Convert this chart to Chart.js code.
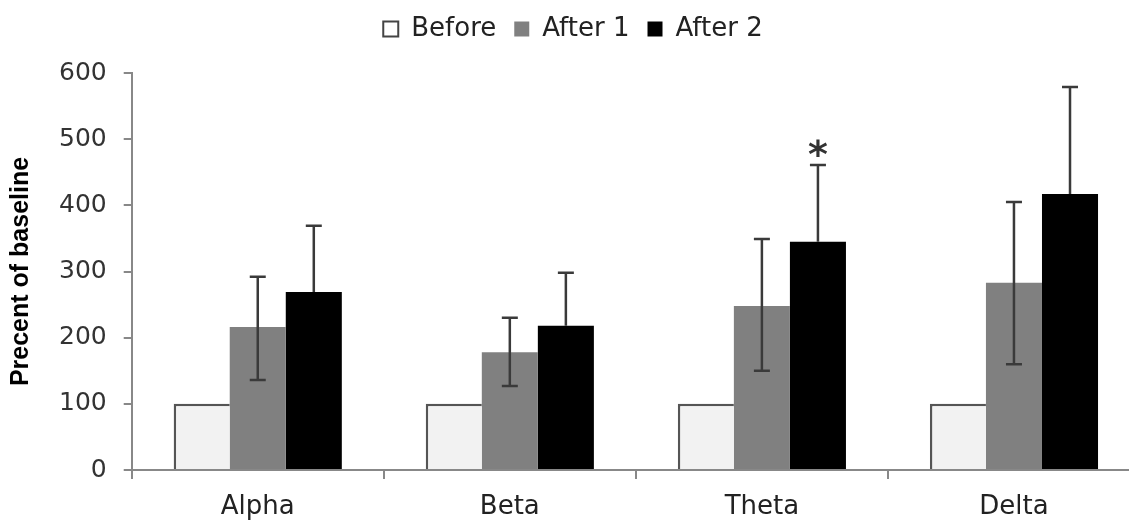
<!DOCTYPE html>
<html><head><meta charset="utf-8">
<script src="https://cdn.jsdelivr.net/npm/chart.js@4.4.0/dist/chart.umd.min.js"></script>
<style>html,body{margin:0;padding:0;background:#fff;overflow:hidden;width:1129px;height:523px}canvas{display:block}</style>
</head><body>
<canvas id="c" width="1145" height="523"></canvas>
<script>
const categories = ["Alpha", "Beta", "Theta", "Delta"];
const seriesNames = ["Before", "After 1", "After 2"];
const before = [100, 100, 100, 100];
const after1 = [216, 178, 248, 283];
const after2 = [269, 218, 345, 417];
const after1ErrUp = [292, 230, 349, 405];
const after1ErrLow = [136, 127, 150, 160];
const after2ErrUp = [369, 298, 461, 579];
const yTicks = [0, 100, 200, 300, 400, 500, 600];
const significance = ["", "", "*", ""];

const errorBars = {
  id: 'errorBars',
  beforeLayout(chart) {
    const lg = chart.legend;
    if (lg && !lg._patched) {
      const origFit = lg.fit;
      lg.fit = function () { origFit.call(this); this.height = 73; };
      const origDraw = lg.draw;
      lg.draw = function (a) { const t = this.top; this.top = t - 2; origDraw.call(this, a); this.top = t; };
      lg._patched = true;
    }
  },
  afterDatasetsDraw(chart) {
    const ctx = chart.ctx, y = chart.scales.y;
    const sets = [[1, after1ErrUp, after1ErrLow], [2, after2ErrUp, null]];
    ctx.save();
    ctx.strokeStyle = '#3a3a3a';
    ctx.lineWidth = 2.5;
    sets.forEach(([di, up, low]) => {
      const meta = chart.getDatasetMeta(di);
      meta.data.forEach((bar, i) => {
        const x = bar.x;
        const yTop = y.getPixelForValue(up[i]);
        const yBot = low ? y.getPixelForValue(low[i]) : bar.y;
        ctx.beginPath();
        ctx.moveTo(x, yBot); ctx.lineTo(x, yTop);
        ctx.moveTo(x - 8, yTop); ctx.lineTo(x + 8, yTop);
        if (low) { ctx.moveTo(x - 8, yBot); ctx.lineTo(x + 8, yBot); }
        ctx.stroke();
        if (di === 2 && significance[i]) {
          ctx.fillStyle = '#333';
          ctx.font = 'bold 38px "DejaVu Sans"';
          ctx.textAlign = 'center';
          ctx.textBaseline = 'bottom';
          ctx.fillText(significance[i], x, yTop + 11);
        }
      });
    });
    ctx.restore();
  }
};

new Chart(document.getElementById('c'), {
  type: 'bar',
  data: {
    labels: categories,
    datasets: [
      { label: seriesNames[0], data: before, backgroundColor: '#f2f2f2', borderColor: '#555555',
        borderWidth: {top: 2.5, left: 2.5, right: 0, bottom: 0}, borderSkipped: false },
      { label: seriesNames[1], data: after1, backgroundColor: '#808080', borderWidth: 0 },
      { label: seriesNames[2], data: after2, backgroundColor: '#000000', borderWidth: 0 }
    ]
  },
  options: {
    responsive: false,
    animation: false,
    layout: { padding: { left: 6, right: 5, top: 0, bottom: 3 } },
    datasets: { bar: { categoryPercentage: 0.667, barPercentage: 1.0 } },
    plugins: {
      tooltip: { enabled: false },
      legend: {
        position: 'top',
        labels: {
          font: { family: 'DejaVu Sans', size: 26 },
          color: '#222',
          boxWidth: 15, boxHeight: 15,
          padding: 18,
          generateLabels(chart) {
            const fills = ['#ffffff', '#808080', '#000000'];
            const strokes = ['#444444', '#808080', '#000000'];
            return seriesNames.map((n, i) => ({
              text: n, fillStyle: fills[i], strokeStyle: strokes[i], lineWidth: i === 0 ? 2 : 0,
              datasetIndex: i, hidden: false, fontColor: '#222'
            }));
          }
        }
      }
    },
    scales: {
      x: {
        afterFit(s) { s.height = 50; },
        grid: { offset: true, drawOnChartArea: false, tickLength: 9, color: '#888', lineWidth: 2 },
        border: { color: '#888', width: 2 },
        ticks: { font: { family: 'DejaVu Sans', size: 26, lineHeight: 1 }, color: '#222', padding: 15 }
      },
      y: {
        min: 0, max: 600,
        afterBuildTicks(s) { s.ticks = yTicks.map(v => ({ value: v })); },
        grid: { drawOnChartArea: false, tickLength: 8, color: '#888', lineWidth: 2 },
        border: { color: '#888', width: 2 },
        ticks: { font: { family: 'DejaVu Sans', size: 25 }, color: '#333', padding: 17 },
        title: { display: true, text: 'Precent of baseline', color: '#000',
          font: { family: 'Liberation Sans', size: 25, weight: 'bold' }, padding: { top: 0, bottom: 6 } }
      }
    }
  },
  plugins: [errorBars]
});
</script>
</body></html>
